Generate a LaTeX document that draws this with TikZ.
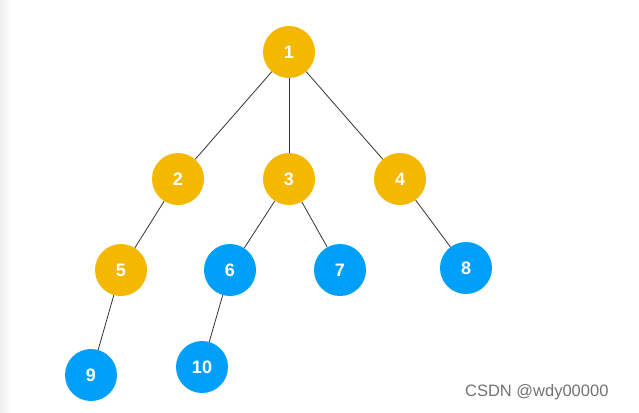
\documentclass[tikz,border=0pt]{standalone}
\usepackage{fontspec}
\setmainfont{Liberation Sans}
\definecolor{ynode}{HTML}{F5B800}
\definecolor{bnode}{HTML}{00A0FA}
\definecolor{edgec}{HTML}{333333}
\begin{document}
\begin{tikzpicture}[x=1pt,y=-1pt,
  tn/.style={circle,minimum size=52pt,inner sep=0pt,text=white,font=\fontsize{18}{18}\selectfont\bfseries},
  yn/.style={tn,fill=ynode},
  bn/.style={tn,fill=bnode},
  edge/.style={draw=edgec,line width=0.8pt}]
\useasboundingbox (0,0) rectangle (639,412);
\fill[white] (0,0) rectangle (639,412);
\shade[left color=black!6,right color=white] (0,0) rectangle (12,412);
\node[yn] (n1) at (289,52) {1};
\node[yn] (n2) at (178,179) {2};
\node[yn] (n3) at (289,179) {3};
\node[yn] (n4) at (400,179) {4};
\node[yn] (n5) at (121,270) {5};
\node[bn] (n6) at (230,270) {6};
\node[bn] (n7) at (340,270) {7};
\node[bn] (n8) at (466,268) {8};
\node[bn] (n9) at (91,375) {9};
\node[bn] (n10) at (202,367) {10};
\draw[edge] (n1) -- (n2);
\draw[edge] (n1) -- (n3);
\draw[edge] (n1) -- (n4);
\draw[edge] (n2) -- (n5);
\draw[edge] (n3) -- (n6);
\draw[edge] (n3) -- (n7);
\draw[edge] (n4) -- (n8);
\draw[edge] (n5) -- (n9);
\draw[edge] (n6) -- (n10);
\node[text=black!55,font=\fontsize{16.5}{16.5}\selectfont,anchor=east] (wm) at (612,392) {CSDN @wdy00000};
\end{tikzpicture}
\end{document}
